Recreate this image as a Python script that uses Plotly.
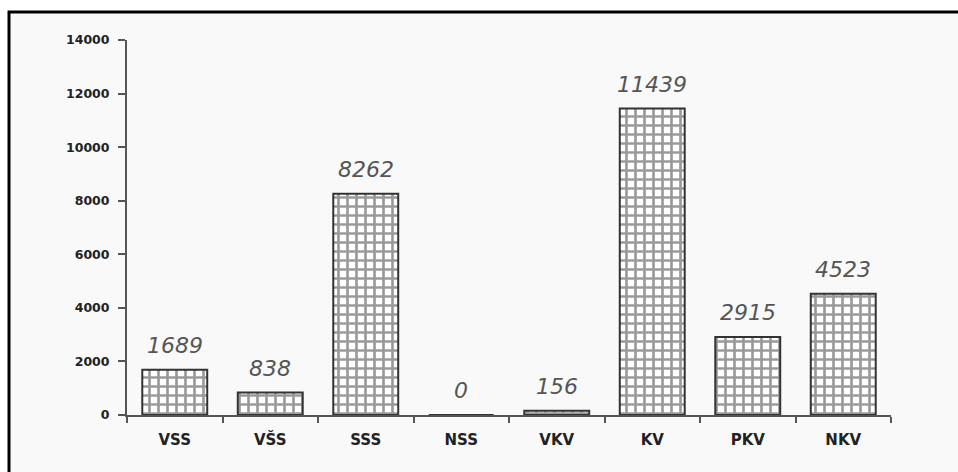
import plotly.graph_objects as go

categories = ["VSS", "VŠS", "SSS", "NSS", "VKV", "KV", "PKV", "NKV"]
values = [1689, 838, 8262, 0, 156, 11439, 2915, 4523]
y_ticks = [0, 2000, 4000, 6000, 8000, 10000, 12000, 14000]

W, H = 958, 472
L, R, T, B = 127, 67, 40, 57
pw, ph = W - L - R, H - T - B

fig = go.Figure()
fig.add_trace(go.Bar(
    x=categories, y=values, width=0.68,
    marker=dict(
        color="white",
        line=dict(color="#333333", width=2),
        pattern=dict(shape="+", fgcolor="#333333", bgcolor="white", size=9, solidity=0.5),
    ),
    hoverinfo="skip",
))

for c, v in zip(categories, values):
    fig.add_annotation(
        x=c, y=v, text=str(v), showarrow=False, yanchor="bottom", yshift=10,
        font=dict(family="DejaVu Sans", size=22, color="#555555", style="italic"),
    )

# outer frame (top and left edges visible, rest outside the picture)
fig.add_shape(
    type="rect", xref="paper", yref="paper", layer="below",
    x0=(9 - L) / pw, x1=(W + 30 - L) / pw,
    y0=-(B + 30) / ph, y1=(H - B - 12) / ph,
    line=dict(color="black", width=3), fillcolor="#f9f9f9",
)

fig.update_layout(
    width=W, height=H,
    margin=dict(l=L, r=R, t=T, b=B, pad=0),
    paper_bgcolor="white", plot_bgcolor="rgba(0,0,0,0)",
    showlegend=False,
    font=dict(family="DejaVu Sans", color="#222222"),
)
fig.update_xaxes(
    range=[-0.5, 7.5], showgrid=False, zeroline=False,
    showline=True, linecolor="#555555", linewidth=2,
    ticks="outside", tickson="boundaries", ticklen=6, tickcolor="#555555", tickwidth=1.5,
    tickfont=dict(family="DejaVu Sans", size=15, weight="bold", color="#222222"),
    ticklabelstandoff=10,
)
fig.update_yaxes(
    range=[0, 14000], tickvals=y_ticks, ticktext=[str(t) for t in y_ticks],
    showgrid=False, zeroline=False,
    showline=True, linecolor="#555555", linewidth=2,
    ticks="outside", ticklen=7, tickcolor="#555555", tickwidth=1.5,
    tickfont=dict(family="DejaVu Sans", size=12.5, weight="bold", color="#222222"),
    ticklabelstandoff=6,
)

fig.write_html(
    "out.html",
    config={"displayModeBar": False},
    post_script="document.body.style.margin='0';document.body.style.overflow='hidden';",
)
